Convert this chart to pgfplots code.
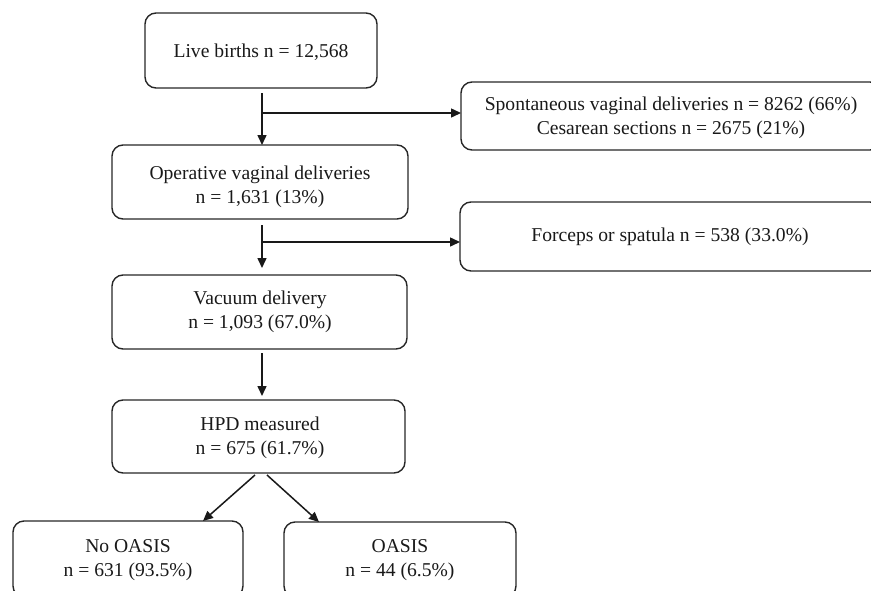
\documentclass[border=0pt]{standalone}
\usepackage{pgfplots}
\pgfplotsset{compat=1.18}
\usepackage{fontspec}
\setmainfont{Liberation Serif}
\usetikzlibrary{arrows.meta}
\tikzset{lbl/.style={font=\fontsize{19.6}{24}\selectfont, align=center, text=black!90, inner sep=0pt}}
\begin{document}
\begin{tikzpicture}
\begin{axis}[
  width=871pt, height=590pt, scale only axis,
  xmin=0, xmax=871, ymin=0, ymax=590,
  y dir=reverse, hide axis, clip=false,
]
% boxes
\pgfplotsset{box/.style={draw=black!85, line width=1.4pt, rounded corners=11pt, mark=none}}
\addplot[box] coordinates {(145,13) (377,13) (377,88) (145,88)} -- cycle;
\addplot[box] coordinates {(112,145) (408,145) (408,219) (112,219)} -- cycle;
\addplot[box] coordinates {(112,275) (407,275) (407,349) (112,349)} -- cycle;
\addplot[box] coordinates {(112,400) (405,400) (405,473) (112,473)} -- cycle;
\addplot[box] coordinates {(461,82) (881,82) (881,150) (461,150)} -- cycle;
\addplot[box] coordinates {(460,202) (881,202) (881,271) (460,271)} -- cycle;
\addplot[box] coordinates {(13,521) (243,521) (243,597) (13,597)} -- cycle;
\addplot[box] coordinates {(284,522) (516,522) (516,597) (284,597)} -- cycle;
% arrows
\pgfplotsset{arr/.style={draw=black!90, line width=1.5pt, mark=none, -{Triangle[length=10pt,width=9pt]}}}
\addplot[arr] coordinates {(262,93) (262,145)};
\addplot[arr] coordinates {(262,113) (461,113)};
\addplot[arr] coordinates {(262,225) (262,268)};
\addplot[arr] coordinates {(262,242) (460,242)};
\addplot[arr] coordinates {(262,353) (262,396)};
\addplot[arr] coordinates {(255,475) (203,521)};
\addplot[arr] coordinates {(267,475) (319,522)};
% texts
\node[lbl] at (axis cs:261,52) {Live births n = 12,568};
\node[lbl] at (axis cs:260,187) {Operative vaginal deliveries\\n = 1,631 (13\%)};
\node[lbl] at (axis cs:671,117.5) {Spontaneous vaginal deliveries n = 8262 (66\%)\\Cesarean sections n = 2675 (21\%)};
\node[lbl] at (axis cs:670,237) {Forceps or spatula n = 538 (33.0\%)};
\node[lbl] at (axis cs:260,312) {Vacuum delivery\\n = 1,093 (67.0\%)};
\node[lbl] at (axis cs:260,438) {HPD measured\\n = 675 (61.7\%)};
\node[lbl] at (axis cs:128,560.5) {No OASIS\\n = 631 (93.5\%)};
\node[lbl] at (axis cs:400,560.5) {OASIS\\n = 44 (6.5\%)};
\end{axis}
\pgfresetboundingbox
\path (current axis.south west) rectangle (current axis.north east);
\end{tikzpicture}
\end{document}
